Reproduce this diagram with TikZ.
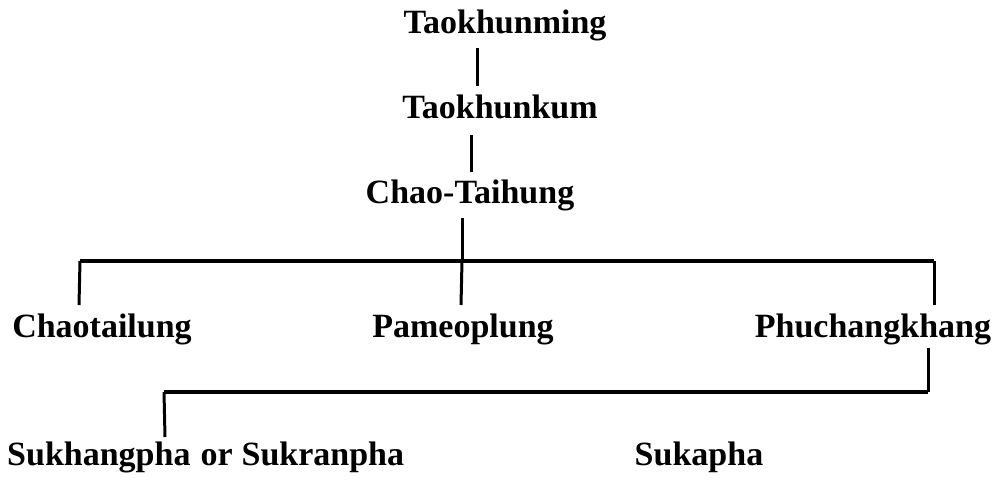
\documentclass[tikz,border=0pt]{standalone}
\usepackage{fontspec}
\setmainfont{Liberation Serif}
\begin{document}
\begin{tikzpicture}[x=1pt,y=-1pt,
  person/.style={anchor=base, inner sep=0pt, font=\fontsize{34}{40}\selectfont\bfseries},
  bar/.style={line width=3.6pt},
  stem/.style={line width=3pt}]
\useasboundingbox (0,0) rectangle (1008,480);
% names
\node[person] (tm) at (505,33) {Taokhunming};
\node[person] (tk) at (500,118) {Taokhunkum};
\node[person] (ct) at (470,203) {Chao-Taihung};
\node[person] (cl) at (102,337) {Chaotailung};
\node[person] (pm) at (463,337) {Pameoplung};
\node[person] (pk) at (873,337) {Phuchangkhang};
\node[person, anchor=base west] (sk) at (7,465) {Sukhangpha\hspace{10pt}or\hspace{9pt}Sukranpha};
\node[person] (sp) at (699,465) {Sukapha};
% junction coordinates
\coordinate (a1) at (477,48);  \coordinate (a2) at (477,86);
\coordinate (b1) at (471,135); \coordinate (b2) at (471,172);
\coordinate (c1) at (462,218); \coordinate (c2) at (462,261);
\coordinate (hL) at (80,261);  \coordinate (hR) at (934,261);
\coordinate (d1) at (79,305);  \coordinate (d2) at (461,305); \coordinate (d3) at (934,305);
\coordinate (e1) at (928,348); \coordinate (e2) at (928,392);
\coordinate (hL2) at (164,392);
\coordinate (f1) at (165,437);
% connectors
\draw[stem] (a1) -- (a2);
\draw[stem] (b1) -- (b2);
\draw[stem] (c1) -- (c2);
\draw[bar] (hL) -- (hR);
\draw[stem] (hL) -- (d1);
\draw[stem] (c2) -- (d2);
\draw[stem] (hR) -- (d3);
\draw[stem] (e1) -- (e2);
\draw[bar] (hL2) -- (e2);
\draw[stem] (hL2) -- (f1);
\end{tikzpicture}
\end{document}
